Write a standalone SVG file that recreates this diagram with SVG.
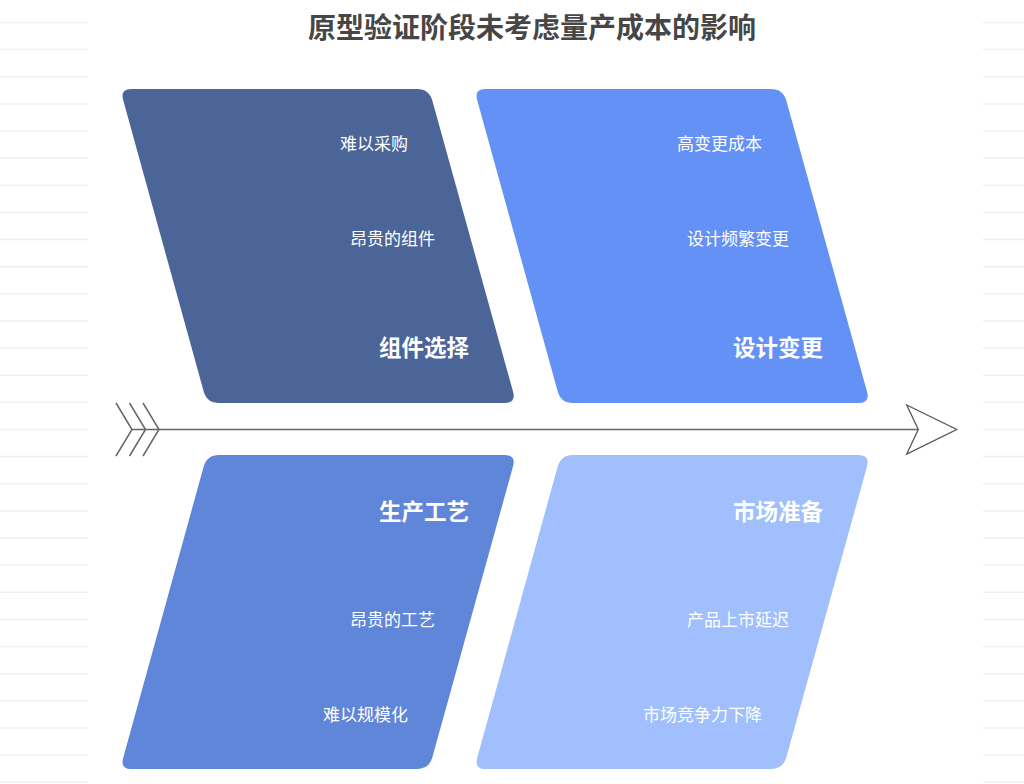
<svg xmlns="http://www.w3.org/2000/svg" xmlns:xlink="http://www.w3.org/1999/xlink" width="1024" height="784" viewBox="0 0 1024 784">
<style>
.bg{stroke:#efefef;stroke-width:1.5}
.item{font-family:"Noto Sans CJK SC","Noto Sans",sans-serif;font-size:17px;fill:#ffffff;text-anchor:end}
.head{font-family:"Noto Sans CJK SC","Noto Sans",sans-serif;font-size:22.5px;font-weight:bold;fill:#ffffff;text-anchor:end}
.title{font-family:"Noto Sans CJK SC","Noto Sans",sans-serif;font-size:28px;font-weight:bold;fill:#464646;text-anchor:middle}
.spine{stroke:#666666;stroke-width:1.5;fill:none}
</style>
<defs>
<path id="para" d="M131,89 L417,89 Q429,89 432.3,100.5 L513,391.5 Q516.3,403 504.3,403 L219,403 Q207,403 203.7,391.5 L123.3,100.5 Q120,89 131,89 Z"/>
</defs>
<rect width="1024" height="784" fill="#ffffff"/>
<g id="background-lines">
<path class="bg" d="M0,22.5H88M0,49.6H88M0,76.7H88M0,103.9H88M0,131H88M0,158.1H88M0,185.3H88M0,212.4H88M0,239.5H88M0,266.7H88M0,293.8H88M0,320.9H88M0,348.1H88M0,375.2H88M0,402.3H88M0,429.5H88M0,456.6H88M0,483.7H88M0,510.9H88M0,538H88M0,565.1H88M0,592.3H88M0,619.4H88M0,646.5H88M0,673.7H88M0,700.8H88M0,727.9H88M0,755.1H88M0,782.2H88"/>
<path class="bg" d="M983,22.5H1024M983,49.6H1024M983,76.7H1024M983,103.9H1024M983,131H1024M983,158.1H1024M983,185.3H1024M983,212.4H1024M983,239.5H1024M983,266.7H1024M983,293.8H1024M983,320.9H1024M983,348.1H1024M983,375.2H1024M983,402.3H1024M983,429.5H1024M983,456.6H1024M983,483.7H1024M983,510.9H1024M983,538H1024M983,565.1H1024M983,592.3H1024M983,619.4H1024M983,646.5H1024M983,673.7H1024M983,700.8H1024M983,727.9H1024M983,755.1H1024M983,782.2H1024"/>
</g>
<text class="title" x="532" y="38">原型验证阶段未考虑量产成本的影响</text>
<g id="connectors">
<line class="spine" x1="132" y1="429.5" x2="918.3" y2="429.5"/>
<polyline class="spine" points="116,403 132,429.5 116,456"/>
<polyline class="spine" points="129.5,403 145.5,429.5 129.5,456"/>
<polyline class="spine" points="143,403 159,429.5 143,456"/>
<polygon points="906.7,405 956.7,429.5 906.7,454 918.3,429.5" fill="#ffffff" stroke="#555555" stroke-width="1.3" stroke-linejoin="miter"/>
</g>
<g id="node-component">
<use xlink:href="#para" href="#para" fill="#4b6599"/>
<text class="item" x="408" y="150">难以采购</text>
<text class="item" x="435" y="245">昂贵的组件</text>
<text class="head" x="469" y="356">组件选择</text>
</g>
<g id="node-design">
<use xlink:href="#para" href="#para" fill="#6491f6" transform="translate(354,0)"/>
<text class="item" x="762" y="150">高变更成本</text>
<text class="item" x="789" y="245">设计频繁变更</text>
<text class="head" x="823" y="356">设计变更</text>
</g>
<g id="node-process">
<use xlink:href="#para" href="#para" fill="#5f86d8" transform="matrix(1,0,0,-1,0,858)"/>
<text class="head" x="469" y="520">生产工艺</text>
<text class="item" x="435" y="626">昂贵的工艺</text>
<text class="item" x="408" y="721">难以规模化</text>
</g>
<g id="node-market">
<use xlink:href="#para" href="#para" fill="#a0bffc" transform="matrix(1,0,0,-1,354,858)"/>
<text class="head" x="823" y="520">市场准备</text>
<text class="item" x="789" y="626">产品上市延迟</text>
<text class="item" x="762" y="721">市场竞争力下降</text>
</g>
</svg>
